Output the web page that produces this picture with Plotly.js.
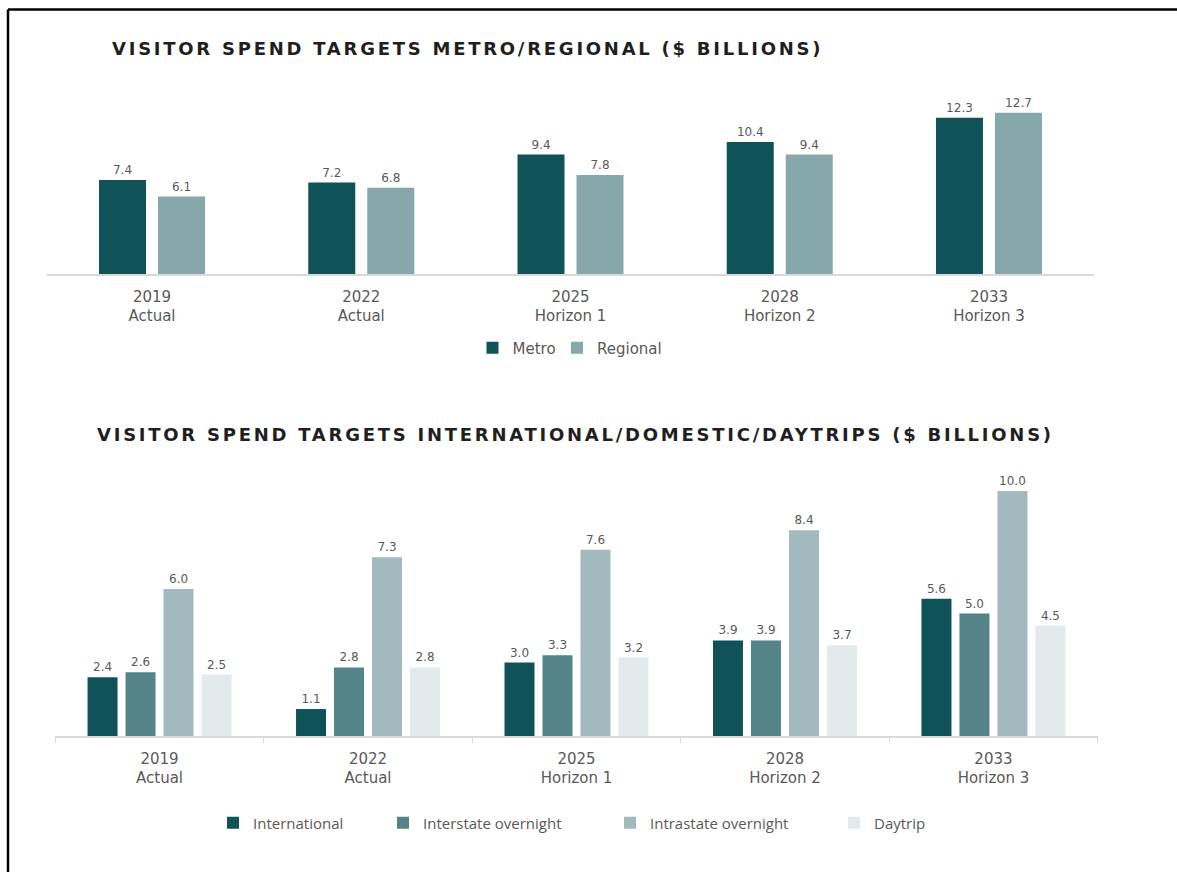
<!DOCTYPE html>
<html><head><meta charset="utf-8">
<script src="https://cdn.plot.ly/plotly-3.0.1.min.js"></script>
<style>
html,body{margin:0;padding:0;background:#fff;}
#chart{width:1177px;height:872px;}
.annotation-text{letter-spacing:2.75px;}
.legend3 .legendtext,.legend4 .legendtext,.legend5 .legendtext,.legend6 .legendtext{letter-spacing:1px;}
</style></head><body><div id="chart"></div>
<script>
// ---- data ----
const categories = ['2019<br>Actual','2022<br>Actual','2025<br>Horizon 1','2028<br>Horizon 2','2033<br>Horizon 3'];
const metro = [7.4, 7.2, 9.4, 10.4, 12.3];
const regional = [6.1, 6.8, 7.8, 9.4, 12.7];
const international = [2.4, 1.1, 3.0, 3.9, 5.6];
const interstate = [2.6, 2.8, 3.3, 3.9, 5.0];
const intrastate = [6.0, 7.3, 7.6, 8.4, 10.0];
const daytrip = [2.5, 2.8, 3.2, 3.7, 4.5];
const topSeriesNames = ['Metro', 'Regional'];
const bottomSeriesNames = ['International', 'Interstate overnight', 'Intrastate overnight', 'Daytrip'];
const titleTop = 'VISITOR SPEND TARGETS METRO/REGIONAL ($ BILLIONS)';
const titleBottom = 'VISITOR SPEND TARGETS INTERNATIONAL/DOMESTIC/DAYTRIPS ($ BILLIONS)';

// ---- layout helpers (pixel -> paper) ----
const W = 1177, H = 872;
const px = x => x / W;
const py = y => 1 - y / H;

const labelFont = {family: 'DejaVu Sans', size: 12, color: '#595959'};
const tickFont = {family: 'DejaVu Sans', size: 15, color: '#595959'};

function bar(name, vals, color, xa, ya, width, offset, legendId) {
  return {
    type: 'bar', name: name, x: categories, y: vals,
    xaxis: xa, yaxis: ya,
    marker: {color: color},
    width: width, offset: offset,
    text: vals.map(v => v.toFixed(1)),
    textposition: 'outside', textfont: labelFont, cliponaxis: false,
    hoverinfo: 'skip', legend: legendId
  };
}

const topW = 47 / 209.25;
const botW = 30 / 208.5;
const traces = [
  bar(topSeriesNames[0], metro, '#0f5257', 'x', 'y', topW, -53 / 209.25, 'legend'),
  bar(topSeriesNames[1], regional, '#86a8aa', 'x', 'y', topW, 6 / 209.25, 'legend2'),
  bar(bottomSeriesNames[0], international, '#0f5257', 'x2', 'y2', botW, -72 / 208.5, 'legend3'),
  bar(bottomSeriesNames[1], interstate, '#548487', 'x2', 'y2', botW, -34 / 208.5, 'legend4'),
  bar(bottomSeriesNames[2], intrastate, '#a2babd', 'x2', 'y2', botW, 4 / 208.5, 'legend5'),
  bar(bottomSeriesNames[3], daytrip, '#e3eaeb', 'x2', 'y2', botW, 42 / 208.5, 'legend6')
];

function leg(symCenterX, centerY, font) {
  return {x: px(symCenterX - 20), y: py(centerY), xanchor: 'left', yanchor: 'middle',
          orientation: 'h', bgcolor: 'rgba(0,0,0,0)', borderwidth: 0, font: font};
}
const topLegFont = {family: 'DejaVu Sans', size: 15, color: '#595959'};
const botLegFont = {family: 'Open Sans', size: 15, color: '#595959'};

const layout = {
  width: W, height: H, autosize: false,
  margin: {l: 0, r: 0, t: 0, b: 0},
  paper_bgcolor: '#fff', plot_bgcolor: 'rgba(0,0,0,0)',
  showlegend: true, barmode: 'group',
  xaxis: {domain: [px(47.4), px(1093.6)], anchor: 'y', type: 'category',
          showline: true, linecolor: '#d9d9d9', linewidth: 1.5, ticks: '',
          ticklabelstandoff: 8,
          tickfont: tickFont, showgrid: false, zeroline: false, fixedrange: true},
  yaxis: {domain: [py(274), py(100)], anchor: 'x', range: [0, 174 / 12.7],
          visible: false, showgrid: false, zeroline: false, fixedrange: true},
  xaxis2: {domain: [px(55.3), px(1097.7)], anchor: 'y2', type: 'category',
           showline: true, linecolor: '#d9d9d9', linewidth: 1.5,
           ticks: 'outside', tickson: 'boundaries', ticklen: 5, tickcolor: '#d9d9d9', tickwidth: 1,
           ticklabelstandoff: 8,
           tickfont: tickFont, showgrid: false, zeroline: false, fixedrange: true},
  yaxis2: {domain: [py(736), py(470)], anchor: 'x2', range: [0, 266 / 24.5],
           visible: false, showgrid: false, zeroline: false, fixedrange: true},
  legend: leg(492.5, 348, topLegFont),
  legend2: leg(577, 348, topLegFont),
  legend3: leg(233, 823, botLegFont),
  legend4: leg(403, 823, botLegFont),
  legend5: leg(630, 823, botLegFont),
  legend6: leg(854, 823, botLegFont),
  annotations: [
    {text: titleTop, xref: 'paper', yref: 'paper', x: px(110), y: py(49), xanchor: 'left', yanchor: 'middle',
     showarrow: false, font: {family: 'DejaVu Sans', size: 18, weight: 'bold', color: '#1f1f1f'}},
    {text: titleBottom, xref: 'paper', yref: 'paper', x: px(95), y: py(434), xanchor: 'left', yanchor: 'middle',
     showarrow: false, font: {family: 'DejaVu Sans', size: 18, weight: 'bold', color: '#1f1f1f'}}
  ],
  shapes: [
    {type: 'line', xref: 'paper', yref: 'paper', x0: px(8), x1: 1, y0: py(9.5), y1: py(9.5), line: {color: '#000', width: 2.5}},
    {type: 'line', xref: 'paper', yref: 'paper', x0: px(8), x1: px(8), y0: py(9.5), y1: 0, line: {color: '#000', width: 2.5}}
  ]
};

Plotly.newPlot('chart', traces, layout, {displayModeBar: false, staticPlot: true});
</script></body></html>
